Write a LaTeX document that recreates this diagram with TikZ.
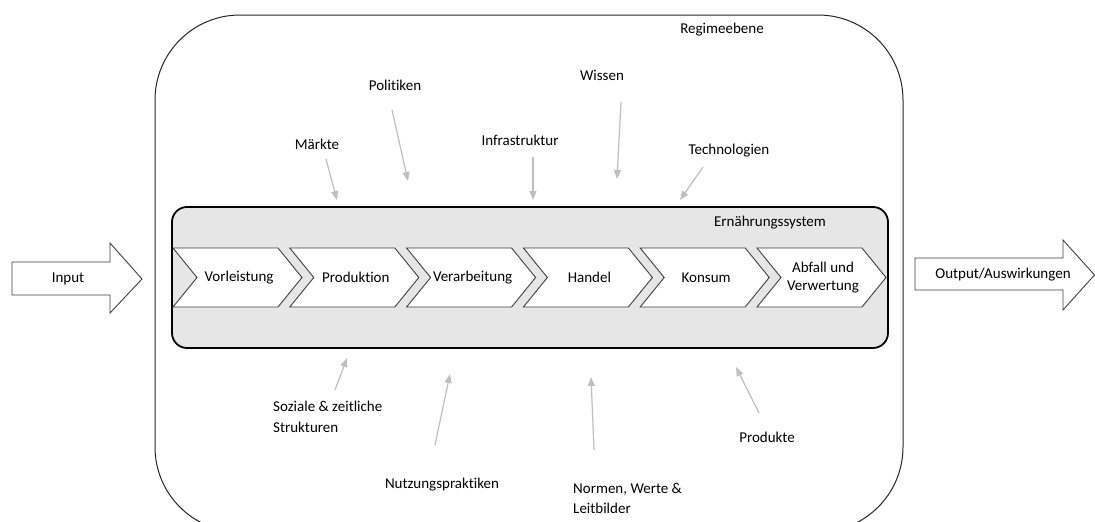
\documentclass[tikz,border=0pt]{standalone}
\usepackage{fontspec}
\setmainfont{Carlito}[Ligatures=NoCommon]
\usetikzlibrary{arrows.meta}
\definecolor{boxgray}{HTML}{E7E6E6}
\definecolor{arrgray}{HTML}{BFBFBF}
\definecolor{edge}{HTML}{404040}
\tikzset{
  lbl/.style={font=\fontsize{15}{18.5}\selectfont, inner sep=0pt, text=black},
  infl/.style={draw=arrgray, line width=1.2pt, -{Triangle[length=9pt,width=7pt]}},
  chev/.style={draw=edge, line width=0.9pt, fill=white, line join=miter},
  bigarrow/.style={draw=edge, line width=0.9pt, fill=white}
}
\begin{document}
\begin{tikzpicture}[x=1pt,y=-1pt]
\useasboundingbox (0,0) rectangle (1095,522);
\begin{scope}
\clip (0,0) rectangle (1095,522);
% outer regime box
\draw[line width=1pt, draw=black!85, rounded corners=85pt] (155,15) rectangle (903,532);
\end{scope}
\node[lbl] (regime) at (722,30) {Regimeebene};

% inner system box
\draw[line width=1.8pt, fill=boxgray, rounded corners=15pt] (172,207) rectangle (888,348);
\node[lbl] (system) at (770,223) {Ernährungssystem};

% chevrons
\foreach \i/\t [count=\k from 0] in {a/Vorleistung, b/Produktion, c/Verarbeitung, d/Handel, e/Konsum, f/{Abfall und\\Verwertung}}{
  \pgfmathsetmacro{\L}{173+116.8*\k}
  \draw[chev] (\L,248) -- ({\L+105},248) -- ({\L+129},277.5) -- ({\L+105},307) -- (\L,307) -- ({\L+24},277.5) -- cycle;
  \node[lbl, align=center] (\i) at ({\L+66},277.5) {\t};
}

% input / output arrows
\draw[bigarrow] (12,262) -- (110,262) -- (110,243) -- (142,279) -- (110,313) -- (110,295) -- (12,295) -- cycle;
\node[lbl] (input) at (68,279) {Input};
\draw[bigarrow] (915,258) -- (1063,258) -- (1063,240) -- (1094.5,275) -- (1063,310) -- (1063,290) -- (915,290) -- cycle;
\node[lbl] (output) at (1003,275) {Output/Auswirkungen};

% top influences
\node[lbl] (pol) at (395,85) {Politiken};
\node[lbl] (mae) at (317,144) {Märkte};
\node[lbl] (inf) at (520,140) {Infrastruktur};
\node[lbl] (wis) at (602,75) {Wissen};
\node[lbl] (tec) at (729,151) {Technologien};

\coordinate (pol1) at (392,110); \coordinate (pol2) at (408,181);
\coordinate (mae1) at (326,159); \coordinate (mae2) at (337,200);
\coordinate (inf1) at (533,157); \coordinate (inf2) at (533,200);
\coordinate (wis1) at (621,102); \coordinate (wis2) at (617,179);
\coordinate (tec1) at (703,167); \coordinate (tec2) at (680,200);
\draw[infl] (pol1) -- (pol2);
\draw[infl] (mae1) -- (mae2);
\draw[infl] (inf1) -- (inf2);
\draw[infl] (wis1) -- (wis2);
\draw[infl] (tec1) -- (tec2);

% bottom influences
\node[lbl, align=left, anchor=north west] (soz) at (273,401) {Soziale \& zeitliche\\[2pt]Strukturen};
\node[lbl] (nut) at (442,485) {Nutzungspraktiken};
\node[lbl, align=left, anchor=north west] (nor) at (573,483) {Normen, Werte \&\\[2pt]Leitbilder};
\node[lbl] (pro) at (767,437) {Produkte};

\coordinate (soz1) at (335,390); \coordinate (soz2) at (347,358);
\coordinate (nut1) at (435,445); \coordinate (nut2) at (450,374);
\coordinate (nor1) at (594,450); \coordinate (nor2) at (591,377);
\coordinate (pro1) at (759,413); \coordinate (pro2) at (736,367);
\draw[infl] (soz1) -- (soz2);
\draw[infl] (nut1) -- (nut2);
\draw[infl] (nor1) -- (nor2);
\draw[infl] (pro1) -- (pro2);
\end{tikzpicture}
\end{document}
